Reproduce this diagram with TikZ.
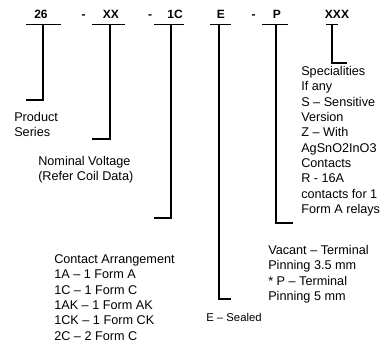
\documentclass[tikz,border=0pt]{standalone}
\usepackage{fontspec}
\setmainfont{Liberation Sans}

\begin{document}
\begin{tikzpicture}[x=0.75pt, y=-0.75pt,
        code/.style = {anchor=base, inner sep=0pt, font=\fontsize{9}{11}\selectfont\bfseries},
        desc/.style = {anchor=base west, align=left, inner sep=0pt, font=\fontsize{9.5}{11.5}\selectfont},
        lead/.style = {line width=0.8pt}
    ]
    \useasboundingbox (0,0) rectangle (390,346);

    %Code
    \node (code_series) at (41,18.3)[code]{26};
    \node (dash_a) at (83.5,18.3)[code]{-};
    \node (code_volt) at (111,18.3)[code]{XX};
    \node (dash_b) at (150,18.3)[code]{-};
    \node (code_cont) at (175,18.3)[code]{1C};
    \node (code_seal) at (221,18.3)[code]{E};
    \node (dash_c) at (253.5,18.3)[code]{-};
    \node (code_pin) at (277,18.3)[code]{P};
    \node (code_spec) at (337,18.3)[code]{XXX};

    %Unterstriche
    \draw[lead] (26,24.5) -- (61,24.5);
    \draw[lead] (92,24.5) -- (125,24.5);
    \draw[lead] (154,24.5) -- (184,24.5);
    \draw[lead] (210,24.5) -- (231,24.5);
    \draw[lead] (262,24.5) -- (288,24.5);
    \draw[lead] (326,24.5) -- (338,24.5);

    %Ecken
    \coordinate (series_top) at (43,24.5);
    \coordinate (series_bot) at (43,100);
    \coordinate (series_end) at (26,100);
    \coordinate (volt_top) at (110,24.5);
    \coordinate (volt_bot) at (110,139);
    \coordinate (volt_end) at (92,139);
    \coordinate (cont_top) at (171,24.5);
    \coordinate (cont_bot) at (171,218);
    \coordinate (cont_end) at (154,218);
    \coordinate (seal_top) at (219,24.5);
    \coordinate (seal_bot) at (219,299);
    \coordinate (seal_end) at (231,299);
    \coordinate (pin_top) at (276,24.5);
    \coordinate (pin_bot) at (276,223);
    \coordinate (pin_end) at (293,223);
    \coordinate (spec_top) at (332,24.5);
    \coordinate (spec_bot) at (332,63);
    \coordinate (spec_end) at (347,63);

    %Linien
    \draw[lead] (series_top) -- (series_bot) -- (series_end);
    \draw[lead] (volt_top) -- (volt_bot) -- (volt_end);
    \draw[lead] (cont_top) -- (cont_bot) -- (cont_end);
    \draw[lead] (seal_top) -- (seal_bot) -- (seal_end);
    \draw[lead] (pin_top) -- (pin_bot) -- (pin_end);
    \draw[lead] (spec_top) -- (spec_bot) -- (spec_end);

    %Texte (Basis = letzte Zeile)
    \node (txt_series) at (14,136.8)[desc]{Product\\Series};
    \node (txt_volt) at (38,180.8)[desc]{Nominal Voltage\\(Refer Coil Data)};
    \node (txt_cont) at (54,340.2)[desc]{Contact Arrangement\\1A -- 1 Form A\\1C -- 1 Form C\\1AK -- 1 Form AK\\1CK -- 1 Form CK\\2C -- 2 Form C};
    \node (txt_seal) at (206,322)[desc, font=\fontsize{8.5}{10}\selectfont]{E -- Sealed};
    \node (txt_pin) at (268,300.5)[desc]{Vacant -- Terminal\\Pinning 3.5 mm\\* P -- Terminal\\Pinning 5 mm};
    \node (txt_spec) at (301,213.5)[desc]{Specialities\\If any\\S -- Sensitive\\Version\\Z -- With\\AgSnO2InO3\\Contacts\\R - 16A\\contacts for 1\\Form A relays};

\end{tikzpicture}
\end{document}
